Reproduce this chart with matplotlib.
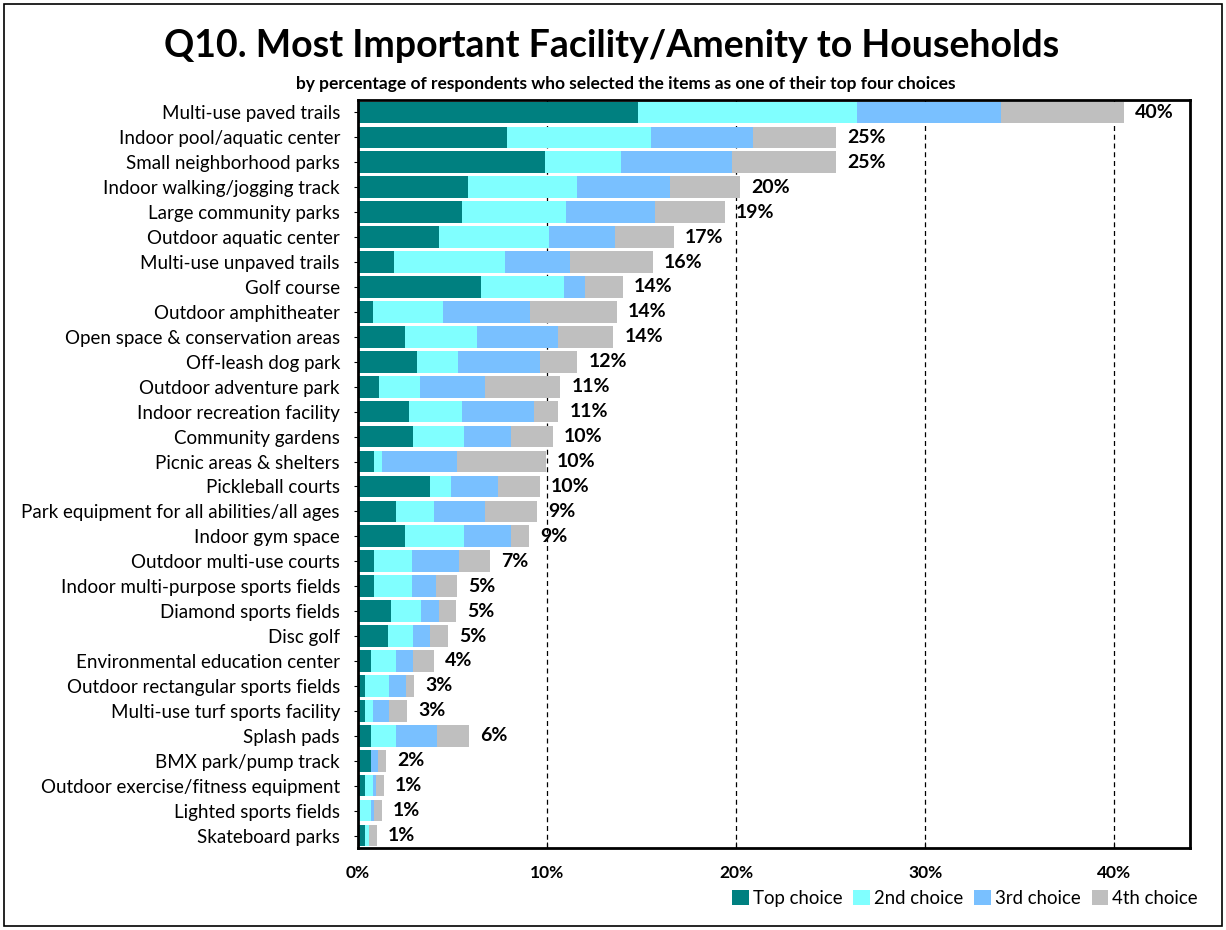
import matplotlib.pyplot as plt
import numpy as np
from matplotlib.patches import Rectangle

plt.rcParams['font.family'] = ['Lato', 'DejaVu Sans']

# facilities, top to bottom as shown
categories = [
    "Multi-use paved trails", "Indoor pool/aquatic center", "Small neighborhood parks",
    "Indoor walking/jogging track", "Large community parks", "Outdoor aquatic center",
    "Multi-use unpaved trails", "Golf course", "Outdoor amphitheater",
    "Open space & conservation areas", "Off-leash dog park", "Outdoor adventure park",
    "Indoor recreation facility", "Community gardens", "Picnic areas & shelters",
    "Pickleball courts", "Park equipment for all abilities/all ages", "Indoor gym space",
    "Outdoor multi-use courts", "Indoor multi-purpose sports fields", "Diamond sports fields",
    "Disc golf", "Environmental education center", "Outdoor rectangular sports fields",
    "Multi-use turf sports facility", "Splash pads", "BMX park/pump track",
    "Outdoor exercise/fitness equipment", "Lighted sports fields", "Skateboard parks",
]

top_choice = [14.8, 7.9, 9.9, 5.8, 5.5, 4.3, 1.9, 6.5, 0.8, 2.5, 3.1, 1.1, 2.7, 2.9, 0.85,
              3.8, 2.0, 2.5, 0.85, 0.85, 1.75, 1.6, 0.7, 0.37, 0.37, 0.7, 0.7, 0.37, 0.0, 0.37]
second_choice = [11.6, 7.6, 4.0, 5.8, 5.5, 5.8, 5.9, 4.4, 3.7, 3.8, 2.2, 2.2, 2.8, 2.7, 0.4,
                 1.1, 2.0, 3.1, 2.0, 2.0, 1.6, 1.3, 1.3, 1.27, 0.43, 1.3, 0.0, 0.43, 0.69, 0.21]
third_choice = [7.6, 5.4, 5.9, 4.9, 4.7, 3.5, 3.4, 1.1, 4.6, 4.3, 4.3, 3.4, 3.8, 2.5, 4.0,
                2.5, 2.7, 2.5, 2.5, 1.3, 0.95, 0.9, 0.9, 0.9, 0.85, 2.2, 0.37, 0.15, 0.16, 0.0]
fourth_choice = [6.5, 4.4, 5.5, 3.7, 3.7, 3.1, 4.4, 2.0, 4.6, 2.9, 2.0, 4.0, 1.3, 2.2, 4.7,
                 2.2, 2.75, 0.95, 1.65, 1.1, 0.9, 0.95, 1.1, 0.43, 0.95, 1.65, 0.42, 0.43, 0.42, 0.43]
total_labels = ["40%", "25%", "25%", "20%", "19%", "17%", "16%", "14%", "14%", "14%",
                "12%", "11%", "11%", "10%", "10%", "10%", "9%", "9%", "7%", "5%",
                "5%", "5%", "4%", "3%", "3%", "6%", "2%", "1%", "1%", "1%"]

series = [top_choice, second_choice, third_choice, fourth_choice]
series_names = ["Top choice", "2nd choice", "3rd choice", "4th choice"]
colors = ["#008080", "#80FFFF", "#79C0FF", "#BFBFBF"]

fig = plt.figure(figsize=(12.26, 9.30), dpi=100)
fig.patches.append(Rectangle((0.003, 0.004), 0.994, 0.992, transform=fig.transFigure,
                             fill=False, edgecolor='black', linewidth=1.2))

ax = fig.add_axes([0.292, 0.0882, 0.6786, 0.8043])
y = np.arange(len(categories))

left = np.zeros(len(categories))
for vals, name, col in zip(series, series_names, colors):
    vals = np.array(vals)
    ax.barh(y, vals, left=left, height=0.87, color=col, label=name, zorder=2)
    left += vals

# total labels at the end of each bar
for yi, tot, lab in zip(y, left, total_labels):
    ax.annotate(lab, (tot, yi), xytext=(8, 0), textcoords='offset points',
                ha='left', va='center', fontsize=14, fontweight='bold')

ax.set_xlim(0, 44)
ax.set_ylim(len(categories) - 0.5, -0.5)
ax.set_yticks(y)
ax.set_yticklabels(categories, fontsize=13.5)
ax.set_xticks([0, 10, 20, 30, 40])
ax.set_xticklabels(["0%", "10%", "20%", "30%", "40%"], fontsize=12.5, fontweight='bold')
ax.tick_params(axis='x', direction='in', length=4, pad=12)
ax.tick_params(axis='y', length=3, pad=10)

for xv in [10, 20, 30, 40]:
    ax.axvline(xv, color='black', linestyle=(0, (4, 3)), linewidth=0.9, zorder=1)

for sp in ax.spines.values():
    sp.set_linewidth(2)

fig.text(0.499, 0.951, "Q10. Most Important Facility/Amenity to Households",
         ha='center', va='center', fontsize=27, fontweight='bold')
fig.text(0.51, 0.9097, "by percentage of respondents who selected the items as one of their top four choices",
         ha='center', va='center', fontsize=12.5, fontweight='bold')

fig.legend(loc='center right', bbox_to_anchor=(0.983, 0.034), ncol=4, frameon=False,
           fontsize=13.4, handlelength=0.9, handleheight=0.9, handletextpad=0.2,
           columnspacing=0.6, borderaxespad=0)

fig.savefig("out.png", dpi=100)
